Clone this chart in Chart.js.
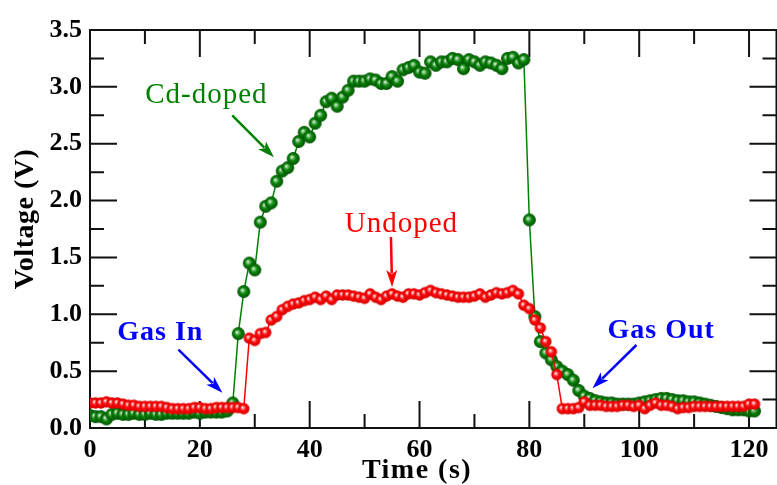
<!DOCTYPE html>
<html>
<head>
<meta charset="utf-8">
<script src="https://cdn.jsdelivr.net/npm/chart.js@4.4.0/dist/chart.umd.min.js"></script>
<style>
  html, body { margin: 0; padding: 0; background: #fff; overflow: hidden; }
  #wrap { width: 785px; height: 485px; }
</style>
</head>
<body>
<div id="wrap"><canvas id="sensor-chart"></canvas></div>
<script>
// time axis (s), shared by both curves
const timeS = [
  0, 1, 2, 3, 4, 5, 6, 7, 8, 9, 10, 11, 12, 13, 14, 15, 16, 17, 18, 19,
  20, 21, 22, 23, 24, 25, 26, 27, 28, 29, 30, 31, 32, 33, 34, 35, 36, 37, 38, 39,
  40, 41, 42, 43, 44, 45, 46, 47, 48, 49, 50, 51, 52, 53, 54, 55, 56, 57, 58, 59,
  60, 61, 62, 63, 64, 65, 66, 67, 68, 69, 70, 71, 72, 73, 74, 75, 76, 77, 78, 79,
  80, 81, 82, 83, 84, 85, 86, 87, 88, 89, 90, 91, 92, 93, 94, 95, 96, 97, 98, 99,
  100, 101, 102, 103, 104, 105, 106, 107, 108, 109, 110, 111, 112, 113, 114, 115, 116, 117, 118, 119,
  120, 121
];

// Cd-doped sensor voltage (V)
const cdDoped = [
  0.11, 0.10, 0.10, 0.08, 0.12, 0.13, 0.12, 0.12, 0.13, 0.12,
  0.12, 0.13, 0.12, 0.12, 0.13, 0.13, 0.13, 0.13, 0.13, 0.14,
  0.13, 0.14, 0.14, 0.14, 0.14, 0.15, 0.22, 0.83, 1.20, 1.45,
  1.39, 1.81, 1.95, 1.98, 2.17, 2.26, 2.29, 2.37, 2.52, 2.60,
  2.56, 2.68, 2.75, 2.87, 2.90, 2.83, 2.91, 2.97, 3.05, 3.05,
  3.05, 3.07, 3.06, 3.03, 3.03, 3.09, 3.05, 3.15, 3.17, 3.19,
  3.13, 3.12, 3.22, 3.19, 3.22, 3.22, 3.25, 3.24, 3.16, 3.24,
  3.22, 3.19, 3.22, 3.21, 3.19, 3.16, 3.25, 3.26, 3.21, 3.24,
  1.83, 0.98, 0.76, 0.66, 0.60, 0.54, 0.50, 0.47, 0.42, 0.33,
  0.28, 0.26, 0.24, 0.23, 0.22, 0.22, 0.21, 0.21, 0.21, 0.21,
  0.22, 0.23, 0.24, 0.25, 0.26, 0.26, 0.25, 0.24, 0.24, 0.23,
  0.23, 0.22, 0.21, 0.20, 0.19, 0.18, 0.17, 0.16, 0.16, 0.16,
  0.15, 0.15
];

// undoped sensor voltage (V)
const undoped = [
  0.22, 0.22, 0.22, 0.23, 0.22, 0.22, 0.21, 0.20, 0.20, 0.19,
  0.19, 0.19, 0.19, 0.19, 0.18, 0.17, 0.17, 0.17, 0.17, 0.18,
  0.18, 0.17, 0.17, 0.18, 0.18, 0.18, 0.18, 0.18, 0.17, 0.79,
  0.77, 0.83, 0.84, 0.95, 0.98, 1.04, 1.07, 1.09, 1.10, 1.12,
  1.13, 1.15, 1.13, 1.16, 1.13, 1.17, 1.17, 1.17, 1.16, 1.15,
  1.14, 1.18, 1.15, 1.13, 1.16, 1.18, 1.16, 1.15, 1.18, 1.18,
  1.17, 1.19, 1.21, 1.19, 1.18, 1.17, 1.16, 1.15, 1.15, 1.15,
  1.16, 1.18, 1.15, 1.17, 1.19, 1.18, 1.19, 1.21, 1.18, 1.08,
  1.05, 0.95, 0.88, 0.76, 0.67, 0.47, 0.17, 0.17, 0.17, 0.18,
  0.23, 0.20, 0.20, 0.20, 0.19, 0.19, 0.19, 0.20, 0.20, 0.19,
  0.20, 0.17, 0.20, 0.22, 0.20, 0.20, 0.19, 0.17, 0.18, 0.18,
  0.19, 0.19, 0.19, 0.19, 0.19, 0.19, 0.19, 0.19, 0.19, 0.19,
  0.21, 0.21
];

const xTicks = [0, 20, 40, 60, 80, 100, 120];
const yTicks = [0, 0.5, 1, 1.5, 2, 2.5, 3, 3.5];

// text labels and arrows, in data units
const notes = [
  { text: "Cd-doped", x: 21.2, y: 2.86, color: "#008000", bold: false },
  { text: "Undoped", x: 56.7, y: 1.72, color: "#ff0000", bold: false },
  { text: "Gas In", x: 12.8, y: 0.77, color: "#0000ff", bold: true },
  { text: "Gas Out", x: 104.0, y: 0.79, color: "#0000ff", bold: true },
];
const arrows = [
  { from: [25.9, 2.75], to: [33.5, 2.38], color: "#008000" },
  { from: [54.8, 1.68], to: [55.0, 1.24], color: "#ff0000" },
  { from: [16.1, 0.69], to: [24.1, 0.31], color: "#0000ff" },
  { from: [99.5, 0.73], to: [91.5, 0.35], color: "#0000ff" },
];

const serif = "'Liberation Serif', 'Times New Roman', serif";

function makeBall(r, light, mid, dark) {
  const size = Math.ceil(2 * r + 2);
  const c = document.createElement("canvas");
  c.width = c.height = size;
  const g = c.getContext("2d");
  const cx = size / 2, cy = size / 2;
  const grad = g.createRadialGradient(cx - r * 0.25, cy - r * 0.25, 0, cx, cy, r);
  grad.addColorStop(0, "#ffffff");
  grad.addColorStop(0.2, light);
  grad.addColorStop(0.5, mid);
  grad.addColorStop(1, dark);
  g.fillStyle = grad;
  g.beginPath();
  g.arc(cx, cy, r, 0, Math.PI * 2);
  g.fill();
  return c;
}

const greenBall = makeBall(6.5, "#8cc88c", "#0a860a", "#005000");
const redBall = makeBall(5.7, "#ffa0a0", "#ff0a0a", "#d40000");

const framePlugin = {
  id: "frame",
  beforeDatasetsDraw(chart) {
    const { ctx, chartArea: a, scales } = chart;
    const x = scales.x, y = scales.y;
    ctx.save();
    ctx.strokeStyle = "#111";
    ctx.lineWidth = 2;
    ctx.strokeRect(a.left, a.top, a.right - a.left, a.bottom - a.top);
    ctx.beginPath();
    for (let v = 0; v <= 125; v += 10) {
      const px = x.getPixelForValue(v);
      const len = v % 20 === 0 ? 27 : 14;
      ctx.moveTo(px, a.bottom); ctx.lineTo(px, a.bottom - len);
      ctx.moveTo(px, a.top); ctx.lineTo(px, a.top + len);
    }
    for (let v = 0; v <= 3.5; v += 0.25) {
      const py = y.getPixelForValue(v);
      const len = Math.abs(v * 2 - Math.round(v * 2)) < 1e-6 ? 27 : 14;
      ctx.moveTo(a.left, py); ctx.lineTo(a.left + len, py);
      ctx.moveTo(a.right, py); ctx.lineTo(a.right - len, py);
    }
    ctx.stroke();
    ctx.restore();
  },
  afterDatasetsDraw(chart) {
    const { ctx, scales } = chart;
    const x = scales.x, y = scales.y;
    ctx.save();
    // arrows
    arrows.forEach((ar) => {
      const x1 = x.getPixelForValue(ar.from[0]), y1 = y.getPixelForValue(ar.from[1]);
      const x2 = x.getPixelForValue(ar.to[0]), y2 = y.getPixelForValue(ar.to[1]);
      const ang = Math.atan2(y2 - y1, x2 - x1);
      const hl = 17, hw = 5.5;
      ctx.strokeStyle = ar.color;
      ctx.fillStyle = ar.color;
      ctx.lineWidth = 2.5;
      ctx.beginPath();
      ctx.moveTo(x1, y1);
      ctx.lineTo(x2 - Math.cos(ang) * hl * 0.8, y2 - Math.sin(ang) * hl * 0.8);
      ctx.stroke();
      ctx.beginPath();
      ctx.moveTo(x2, y2);
      ctx.lineTo(x2 - Math.cos(ang) * hl - Math.sin(ang) * hw, y2 - Math.sin(ang) * hl + Math.cos(ang) * hw);
      ctx.lineTo(x2 - Math.cos(ang) * hl * 0.75, y2 - Math.sin(ang) * hl * 0.75);
      ctx.lineTo(x2 - Math.cos(ang) * hl + Math.sin(ang) * hw, y2 - Math.sin(ang) * hl - Math.cos(ang) * hw);
      ctx.closePath();
      ctx.fill();
    });
    // text notes
    ctx.textAlign = "center";
    ctx.textBaseline = "alphabetic";
    notes.forEach((n) => {
      ctx.font = n.bold ? "bold 28px " + serif : "29px " + serif;
      ctx.letterSpacing = "1px";
      ctx.fillStyle = n.color;
      ctx.fillText(n.text, x.getPixelForValue(n.x), y.getPixelForValue(n.y));
    });
    // axis titles
    ctx.fillStyle = "#000";
    ctx.font = "bold 28px " + serif;
    ctx.letterSpacing = "1.5px";
    ctx.fillText("Time (s)", 417, 478);
    ctx.translate(33, 219);
    ctx.rotate(-Math.PI / 2);
    ctx.letterSpacing = "0.5px";
    ctx.fillText("Voltage (V)", 0, 0);
    ctx.restore();
  },
};

const config = {
  type: "line",
  data: {
    datasets: [
      {
        label: "Undoped",
        data: timeS.map((t, i) => ({ x: t, y: undoped[i] })),
        borderColor: "#ff0000",
        borderWidth: 1.5,
        pointStyle: redBall,
        pointRadius: 6,
        tension: 0,
      },
      {
        label: "Cd-doped",
        data: timeS.map((t, i) => ({ x: t, y: cdDoped[i] })),
        borderColor: "#008000",
        borderWidth: 1.5,
        pointStyle: greenBall,
        pointRadius: 7,
        tension: 0,
      },
    ],
  },
  options: {
    responsive: true,
    maintainAspectRatio: false,
    animation: false,
    layout: { padding: { top: 30, right: 4, left: 0, bottom: 0 } },
    plugins: {
      legend: { display: false },
      tooltip: { enabled: false },
    },
    scales: {
      x: {
        type: "linear",
        min: 0,
        max: 125,
        grid: { display: false, drawTicks: false },
        border: { display: false },
        afterBuildTicks: (s) => { s.ticks = xTicks.map((v) => ({ value: v })); },
        afterFit: (s) => { s.height = 57; },
        ticks: {
          padding: 7,
          maxRotation: 0,
          color: "#000",
          font: { family: serif, size: 26, weight: "bold" },
        },
      },
      y: {
        min: 0,
        max: 3.5,
        grid: { display: false, drawTicks: false },
        border: { display: false },
        afterBuildTicks: (s) => { s.ticks = yTicks.map((v) => ({ value: v })); },
        afterFit: (s) => { s.width = 90; },
        ticks: {
          padding: 8,
          color: "#000",
          font: { family: serif, size: 26, weight: "bold" },
          callback: (v) => Number(v).toFixed(1),
        },
      },
    },
  },
  plugins: [framePlugin],
};

const myChart = new Chart(document.getElementById("sensor-chart"), config);
</script>
</body>
</html>
